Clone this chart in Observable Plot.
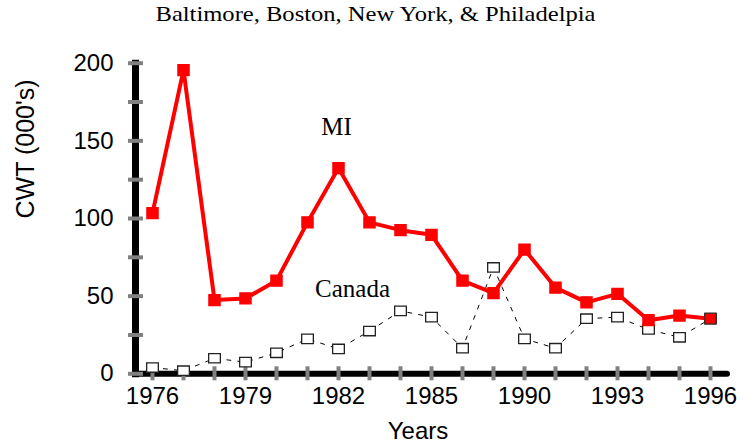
<!DOCTYPE html>
<html><head><meta charset="utf-8">
<script src="https://cdn.jsdelivr.net/npm/d3@7"></script>
<script src="https://cdn.jsdelivr.net/npm/@observablehq/plot@0.6"></script>
<style>body{margin:0;background:#fff}</style>
</head><body><div id="chart"></div>
<script>
const title = "Baltimore, Boston, New York, & Philadelpia";
const years = ["1976","1977","1978","1979","1980","1981","1982","1983","1984","1985","1986","1988","1990","1991","1992","1993","1994","1995","1996"];
const miValues = [103.5,195.5,47.5,48.5,60,97.5,132.5,97.5,92.5,89.5,60,52,80,55.5,46,51.5,34.5,37.5,35.5];
const canadaValues = [4,2,10,7.5,13.5,22.5,16,27.5,40.5,36.5,16.5,68.5,22.5,16.5,35.5,36.5,28.5,23.5,35.5];
const xTickLabels = ["1976","1979","1982","1985","1990","1993","1996"];
const yTickValues = [0,25,50,75,100,125,150,175,200];
const yLabelValues = [0,50,100,150,200];
const miLabel = {text:"MI", year:"1982", value:158.8};
const canadaLabel = {text:"Canada", year:"1982", value:54.9};

const data = years.map((year,i)=>({year, mi: miValues[i], canada: canadaValues[i]}));

const rectSymbol = (fw, fh) => ({draw(ctx, size){ const s = Math.sqrt(size); const w = s*fw, h = s*fh; ctx.moveTo(-w,-h); ctx.lineTo(w,-h); ctx.lineTo(w,h); ctx.lineTo(-w,h); ctx.closePath(); }});
const openSq = rectSymbol(0.55, 0.44);
const fillSq = rectSymbol(0.53, 0.52);

const W = 743, H = 447;
const mL = 135, mR = 16, mT = 62.7, mB = H - 373.3;

const chart = Plot.plot({
  width: W, height: H,
  marginLeft: mL, marginRight: mR, marginTop: mT, marginBottom: mB,
  style: {fontFamily: "Liberation Sans", fontSize: "24px", background: "white", color: "black"},
  x: {type: "point", domain: years, padding: 0.517, axis: null},
  y: {domain: [0, 200], axis: null},
  marks: [
    Plot.frame({anchor: "left", stroke: "black", strokeWidth: 7}),
    Plot.ruleY([0], {stroke: "black", strokeWidth: 6, strokeLinecap: "round"}),
    Plot.axisY(yTickValues, {tickSize: 15, dx: 8, stroke: "#808080", strokeWidth: 4, text: null, label: null}),
    Plot.axisY(yLabelValues, {tickSize: 0, tickPadding: 22, fontSize: 24, label: null}),
    Plot.axisX(years, {tickSize: 14, dy: -7, stroke: "#808080", strokeWidth: 4, text: null, label: null}),
    Plot.axisX(xTickLabels, {tickSize: 0, tickPadding: 13, fontSize: 24, label: null}),
    Plot.line(data, {x: "year", y: "canada", stroke: "black", strokeWidth: 1, strokeDasharray: "4,7"}),
    Plot.dot(data, {x: "year", y: "canada", symbol: openSq, r: 6, fill: "white", stroke: "#222", strokeWidth: 1.3}),
    Plot.line(data, {x: "year", y: "mi", stroke: "#ff0000", strokeWidth: 4}),
    Plot.dot(data, {x: "year", y: "mi", symbol: fillSq, r: 6, fill: "#ff0000", stroke: d => d.year === "1996" ? "#333" : "#ff0000", strokeWidth: 1.2}),
    Plot.text([miLabel], {x: "year", y: "value", text: "text", dx: -2, fontFamily: "Liberation Serif", fontSize: 25, lineAnchor: "middle"}),
    Plot.text([canadaLabel], {x: "year", y: "value", text: "text", dx: 14, fontFamily: "Liberation Serif", fontSize: 25, lineAnchor: "middle"}),
    Plot.text([title], {frameAnchor: "top", lineAnchor: "middle", dy: -49, dx: -56, fontFamily: "Liberation Serif", fontSize: 21, className: "chart-title"}),
    Plot.text(["CWT (000's)"], {frameAnchor: "left", rotate: -90, dx: -110, lineAnchor: "middle", fontSize: 25}),
    Plot.text(["Years"], {frameAnchor: "bottom", lineAnchor: "middle", dy: 57.7, dx: -13.5, fontSize: 24})
  ]
});
d3.select(chart).selectAll(".chart-title text").attr("textLength", 440).attr("lengthAdjust", "spacingAndGlyphs");
document.getElementById("chart").appendChild(chart);
</script>
</body></html>
